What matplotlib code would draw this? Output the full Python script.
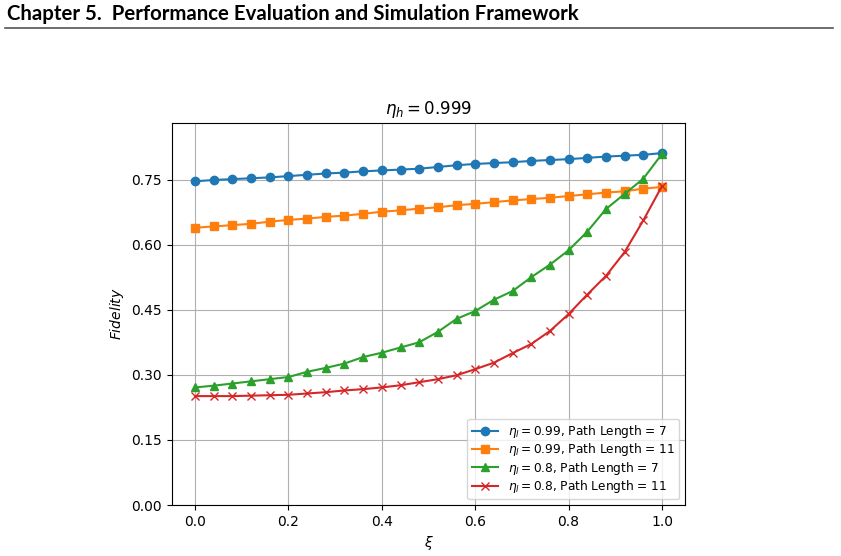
import numpy as np
import matplotlib
matplotlib.use("Agg")
from matplotlib import pyplot as plt

# xi values, 26 points from 0 to 1
xi = np.linspace(0, 1, 26)

# fidelity readings for each curve
fid_099_7 = [0.746, 0.749, 0.751, 0.753, 0.755, 0.758, 0.761, 0.764, 0.766, 0.769,
             0.771, 0.773, 0.775, 0.779, 0.783, 0.786, 0.788, 0.790, 0.793, 0.795,
             0.797, 0.800, 0.803, 0.805, 0.807, 0.811]
fid_099_11 = [0.639, 0.642, 0.645, 0.648, 0.653, 0.657, 0.660, 0.664, 0.667, 0.671,
              0.676, 0.679, 0.683, 0.686, 0.691, 0.694, 0.698, 0.702, 0.705, 0.708,
              0.712, 0.716, 0.720, 0.723, 0.729, 0.733]
fid_08_7 = [0.271, 0.275, 0.280, 0.285, 0.290, 0.295, 0.307, 0.316, 0.326, 0.341,
            0.351, 0.363, 0.375, 0.399, 0.429, 0.447, 0.473, 0.493, 0.525, 0.554,
            0.587, 0.630, 0.682, 0.717, 0.752, 0.809]
fid_08_11 = [0.251, 0.251, 0.251, 0.252, 0.253, 0.254, 0.257, 0.260, 0.264, 0.267,
             0.271, 0.276, 0.283, 0.290, 0.299, 0.313, 0.328, 0.350, 0.371, 0.401,
             0.440, 0.485, 0.528, 0.583, 0.656, 0.735]

labels = [r'$\eta_l = 0.99$, Path Length = 7',
          r'$\eta_l = 0.99$, Path Length = 11',
          r'$\eta_l = 0.8$, Path Length = 7',
          r'$\eta_l = 0.8$, Path Length = 11']

fig = plt.figure(figsize=(8.41, 5.56), dpi=100)

# page header like in the thesis
fig.text(7/841, 1 - 14/556, 'Chapter 5.  Performance Evaluation and Simulation Framework',
         fontsize=14.7, fontweight='bold', family='Lato', va='center', ha='left')
fig.add_artist(plt.Line2D([5/841, 833/841], [1 - 27.5/556, 1 - 27.5/556],
                          color='#555555', linewidth=1.2))

ax = fig.add_axes([0.2042, 0.0917, 0.6107, 0.6876])
ax.plot(xi, fid_099_7, marker='o', label=labels[0])
ax.plot(xi, fid_099_11, marker='s', label=labels[1])
ax.plot(xi, fid_08_7, marker='^', label=labels[2])
ax.plot(xi, fid_08_11, marker='x', label=labels[3])

ax.set_ylim(0, 0.881)
ax.set_yticks([0.0, 0.15, 0.30, 0.45, 0.60, 0.75])
ax.set_yticklabels(['0.00', '0.15', '0.30', '0.45', '0.60', '0.75'])
ax.set_xticks([0.0, 0.2, 0.4, 0.6, 0.8, 1.0])
ax.grid(True)
ax.set_title(r'$\eta_h = 0.999$')
ax.set_xlabel(r'$\xi$')
ax.set_ylabel(r'$Fidelity$')
ax.legend(loc='lower right', fontsize=8.7, labelspacing=0.1,
          handlelength=2.2, borderpad=0.35)

fig.savefig('out.png', dpi=100)
